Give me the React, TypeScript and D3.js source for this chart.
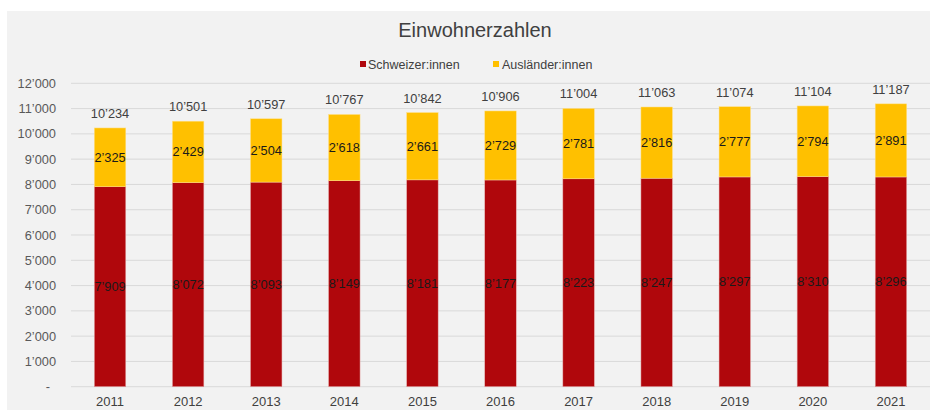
import React from "react";
import * as d3 from "d3";

const years = ["2011", "2012", "2013", "2014", "2015", "2016", "2017", "2018", "2019", "2020", "2021"];
const schweizer = [7909, 8072, 8093, 8149, 8181, 8177, 8223, 8247, 8297, 8310, 8296];
const auslaender = [2325, 2429, 2504, 2618, 2661, 2729, 2781, 2816, 2777, 2794, 2891];
const yTicks = [0, 1000, 2000, 3000, 4000, 5000, 6000, 7000, 8000, 9000, 10000, 11000, 12000];
const seriesNames = ["Schweizer:innen", "Ausländer:innen"];
const colors = ["#b0070c", "#ffc000"];

const W = 930;
const H = 410;
const FONT = "'Liberation Sans', Arial, sans-serif";

const fmt = (v: number) => (v === 0 ? "-" : d3.format(",")(v).replace(/,/g, "\u2019"));

export default function App() {
  const x = d3.scaleBand<string>().domain(years).range([71, 930]).paddingInner(0.597).paddingOuter(0.2985);
  const y = d3.scaleLinear().domain([0, 12000]).range([386.7, 83.3]);
  const bw = x.bandwidth();

  return (
    <svg width={W} height={H} style={{ position: "absolute", left: 0, top: 0 }} fontFamily={FONT}>
      <rect x={0} y={0} width={W} height={H} fill="#ffffff" />
      <rect x={7} y={11} width={W - 7} height={H - 11} fill="#f2f2f2" />
      <text x={475} y={37} textAnchor="middle" fontSize={20} fill="#404040">Einwohnerzahlen</text>

      {/* legend */}
      <g>
        <rect x={360} y={61} width={6} height={6} fill={colors[0]} />
        <text x={368} y={68.5} fontSize={12.5} fill="#404040">{seriesNames[0]}</text>
        <rect x={493} y={61} width={6} height={6} fill={colors[1]} />
        <text x={502} y={68.5} fontSize={12.5} fill="#404040">{seriesNames[1]}</text>
      </g>

      {/* grid + y ticks */}
      {yTicks.map((t) => (
        <g key={t}>
          <line x1={71} x2={930} y1={y(t)} y2={y(t)} stroke="#d9d9d9" strokeWidth={1} />
          <text x={t === 0 ? 50 : 56} y={y(t) + 4.5} textAnchor="end" fontSize={12.8} fill="#595959">{fmt(t)}</text>
        </g>
      ))}

      {/* bars */}
      {years.map((yr, i) => {
        const x0 = x(yr)!;
        const cx = x0 + bw / 2;
        const s = schweizer[i];
        const a = auslaender[i];
        const tot = s + a;
        return (
          <g key={yr}>
            <rect x={x0} y={y(s)} width={bw} height={y(0) - y(s)} fill={colors[0]} stroke="#e6b0b0" strokeWidth={0.5} />
            <rect x={x0} y={y(tot)} width={bw} height={y(s) - y(tot)} fill={colors[1]} stroke="#ffe08a" strokeWidth={0.5} />
            <text x={cx} y={y(s / 2) + 4.5} textAnchor="middle" fontSize={12.8} fill="#1a1a1a">{fmt(s)}</text>
            <text x={cx} y={y(s + a / 2) + 4.5} textAnchor="middle" fontSize={12.8} fill="#1a1a1a">{fmt(a)}</text>
            <text x={cx} y={y(tot) - 10} textAnchor="middle" fontSize={12.8} fill="#404040">{fmt(tot)}</text>
            <text x={cx} y={406} textAnchor="middle" fontSize={13} fill="#404040">{yr}</text>
          </g>
        );
      })}
    </svg>
  );
}
